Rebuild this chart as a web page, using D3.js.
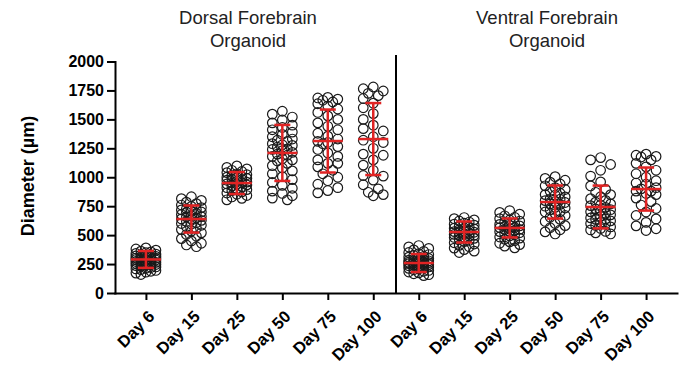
<!DOCTYPE html>
<html>
<head>
<meta charset="utf-8">
<script src="https://cdn.jsdelivr.net/npm/d3@7"></script>
<style>
  body { margin: 0; background: #fff; }
  svg { display: block; }
  text { font-family: "Liberation Sans", Arial, sans-serif; }
</style>
</head>
<body>
<svg id="chart" width="700" height="369"></svg>
<script>
const days = ["Day 6", "Day 15", "Day 25", "Day 50", "Day 75", "Day 100"];
const panelTitles = [["Dorsal Forebrain", "Organoid"], ["Ventral Forebrain", "Organoid"]];
const yTicks = [0, 250, 500, 750, 1000, 1250, 1500, 1750, 2000];

// diameters (µm)
const dorsalDay6 = [160,172,180,188,195,202,208,214,220,225,230,236,241,246,250,255,259,263,268,272,276,280,285,289,293,298,302,307,311,316,320,325,330,336,342,348,355,362,370,380,390,265,290,310,245,285,300,330];
const dorsalDay15 = [400,415,430,450,470,490,505,520,535,548,560,572,585,596,607,618,628,638,648,658,668,678,688,698,708,718,728,738,748,760,772,785,800,815,832,640,660,600,700,720];
const dorsalDay25 = [805,818,830,842,853,864,874,884,893,902,910,918,926,934,942,950,958,966,974,982,990,998,1006,1014,1022,1030,1040,1050,1060,1072,1085,1098,950,940,980,1000];
const dorsalDay50 = [805,820,840,860,880,905,930,955,980,1005,1030,1055,1080,1100,1120,1140,1160,1180,1200,1215,1230,1245,1260,1275,1290,1310,1330,1350,1370,1390,1410,1430,1450,1470,1495,1520,1545,1570,1190,1240,1280,1150,1320];
const dorsalDay75 = [865,885,910,940,970,1000,1030,1060,1090,1120,1150,1180,1210,1240,1265,1290,1310,1330,1355,1380,1410,1440,1470,1500,1530,1560,1590,1615,1635,1650,1665,1675,1685,1690,1120,1300];
const dorsalDay100 = [840,850,870,900,935,975,1015,1060,1105,1150,1200,1250,1300,1350,1400,1450,1500,1550,1600,1640,1680,1705,1725,1745,1765,1780,1010,1320,1420,1190];

const ventralDay6 = [150,158,166,174,181,188,195,201,207,213,219,225,230,235,240,245,250,254,258,262,266,270,274,278,283,288,293,298,304,310,317,324,332,340,350,360,372,385,398,410,240,255,265,225,280];
const ventralDay15 = [350,362,375,388,400,412,423,434,444,454,463,472,481,490,498,506,514,522,530,538,546,554,562,570,578,586,595,604,613,622,632,642,652,510,525,540,495,560,480];
const ventralDay25 = [390,405,418,430,442,453,464,474,484,494,503,512,521,530,539,548,557,566,575,584,593,602,611,621,631,642,654,667,681,696,712,550,565,580,530];
const ventralDay50 = [510,528,546,564,582,600,618,636,654,670,686,702,718,734,750,766,782,798,814,830,846,862,878,894,910,926,942,958,974,990,1005,790,770,810,740,850,700];
const ventralDay75 = [510,520,532,545,558,571,584,597,610,623,636,649,662,675,688,701,714,727,740,755,770,785,800,815,832,850,870,895,925,960,1010,1060,1110,1150,1170,600,640,680,720,760];
const ventralDay100 = [540,555,580,610,640,670,700,730,760,790,820,850,880,910,940,970,1000,1030,1060,1090,1120,1150,1175,1190,1200,880,900,1180,860,950];

// mean and SD as shown by the red bars
const dorsalMean = [290, 639, 950, 1210, 1313, 1330];
const dorsalSD = [73, 117, 95, 242, 272, 311];
const ventralMean = [259, 527, 562, 786, 743, 898];
const ventralSD = [78, 91, 82, 143, 185, 186];

const groups = [];
[[dorsalDay6, dorsalDay15, dorsalDay25, dorsalDay50, dorsalDay75, dorsalDay100],
 [ventralDay6, ventralDay15, ventralDay25, ventralDay50, ventralDay75, ventralDay100]]
  .forEach((panel, p) => {
    panel.forEach((vals, i) => {
      groups.push({
        key: p + "|" + days[i],
        values: vals,
        mean: p === 0 ? dorsalMean[i] : ventralMean[i],
        sd: p === 0 ? dorsalSD[i] : ventralSD[i]
      });
    });
  });

const svg = d3.select("#chart");
const red = "#e02424";
const font = '"Liberation Sans", Arial, sans-serif';

const x = d3.scalePoint()
    .domain(groups.map(d => d.key))
    .range([115, 677])
    .padding(0.68);

const y = d3.scaleLinear()
    .domain([0, 2000])
    .range([293, 61.5]);

// titles
const titleX = [248, 547];
panelTitles.forEach((lines, p) => {
    svg.append("text")
        .attr("x", titleX[p])
        .attr("y", 24)
        .attr("text-anchor", "middle")
        .style("font-size", "18.5px")
        .style("fill", "#222")
        .selectAll("tspan")
        .data(lines)
        .enter()
        .append("tspan")
        .attr("x", titleX[p])
        .attr("dy", (d, i) => i === 0 ? 0 : 22.5)
        .text(d => d);
});

// y label
svg.append("text")
    .attr("transform", "translate(28,176) rotate(-90)")
    .attr("text-anchor", "middle")
    .attr("dominant-baseline", "central")
    .style("font-size", "18px")
    .style("font-weight", "bold")
    .text("Diameter (µm)");

// divider between the two panels
svg.append("line")
    .attr("x1", 396).attr("x2", 396)
    .attr("y1", 55).attr("y2", y(0))
    .attr("stroke", "#000")
    .attr("stroke-width", 2);

// axes
const yAxis = svg.append("g")
    .attr("transform", "translate(115,0)")
    .call(d3.axisLeft(y).tickValues(yTicks).tickFormat(d3.format("d"))
        .tickSize(8).tickSizeOuter(0).tickPadding(3));

const xAxis = svg.append("g")
    .attr("transform", `translate(0,${y(0)})`)
    .call(d3.axisBottom(x).tickSize(7).tickSizeOuter(0).tickFormat(k => k.split("|")[1]));

[yAxis, xAxis].forEach(a => {
    a.attr("font-family", font);
    a.selectAll("path, line").attr("stroke", "#000").attr("stroke-width", 2);
    a.selectAll("text")
        .style("font-family", font)
        .style("font-size", "16px")
        .style("font-weight", "bold")
        .attr("fill", "#000");
    a.select(".domain").attr("stroke-linecap", "square");
});

xAxis.selectAll("text")
    .style("font-size", "16.5px")
    .attr("x", -11)
    .attr("y", 18)
    .attr("dy", "0.35em")
    .attr("text-anchor", "end")
    .attr("transform", "rotate(-45)");

// simple beeswarm so the circles fan out like the original
function swarm(values, cx) {
    const sorted = values.map(v => y(v)).sort((a, b) => a - b);
    const offsets = [0, -5, 5, -10, 10];
    const placed = [];
    sorted.forEach(py => {
        let best = 0, bestD = -1;
        for (const o of offsets) {
            let dmin = Infinity;
            for (const p of placed) {
                const d = Math.hypot(p.x - (cx + o), p.y - py);
                if (d < dmin) dmin = d;
            }
            if (dmin >= 9) { best = o; bestD = dmin; break; }
            if (dmin > bestD) { bestD = dmin; best = o; }
        }
        placed.push({ x: cx + best, y: py });
    });
    return placed;
}

const points = svg.append("g").attr("class", "points");
groups.forEach(g => {
    points.selectAll(null)
        .data(swarm(g.values, x(g.key)))
        .enter()
        .append("circle")
        .attr("cx", d => d.x)
        .attr("cy", d => d.y)
        .attr("r", 4.8)
        .attr("fill", "none")
        .attr("stroke", "#1a1a1a")
        .attr("stroke-width", 1.2);
});

// mean ± SD
const bars = svg.append("g")
    .attr("stroke", red)
    .attr("stroke-width", 2.5);

const bar = bars.selectAll("g")
    .data(groups)
    .enter()
    .append("g")
    .attr("transform", d => `translate(${x(d.key)},0)`);

bar.append("line")
    .attr("y1", d => y(d.mean - d.sd))
    .attr("y2", d => y(d.mean + d.sd));

bar.append("line")
    .attr("x1", -15).attr("x2", 15)
    .attr("y1", d => y(d.mean))
    .attr("y2", d => y(d.mean));

bar.append("line")
    .attr("x1", -8).attr("x2", 8)
    .attr("y1", d => y(d.mean + d.sd))
    .attr("y2", d => y(d.mean + d.sd));

bar.append("line")
    .attr("x1", -8).attr("x2", 8)
    .attr("y1", d => y(d.mean - d.sd))
    .attr("y2", d => y(d.mean - d.sd));
</script>
</body>
</html>
